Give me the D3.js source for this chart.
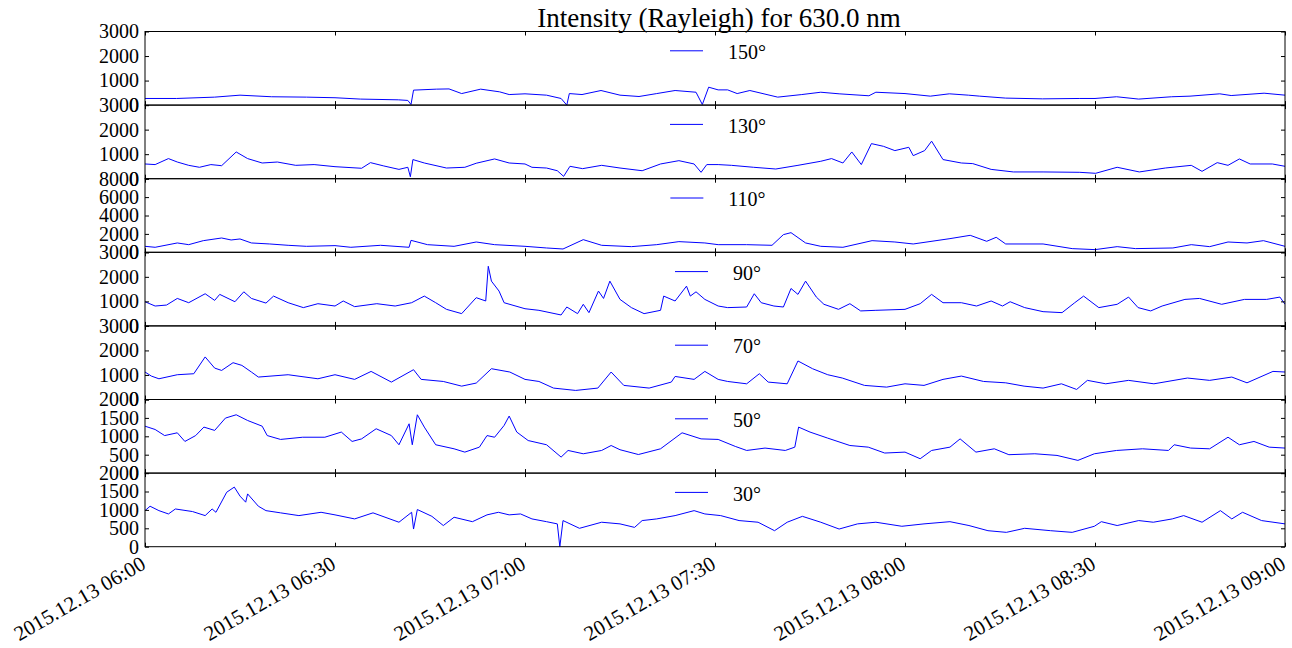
<!DOCTYPE html>
<html>
<head>
<meta charset="utf-8">
<script src="https://cdn.jsdelivr.net/npm/d3@7"></script>
<style>
body{margin:0;background:#fff}
svg{display:block}
text{font-family:"Liberation Serif",serif;fill:#000}
</style>
</head>
<body>
<div id="chart"></div>
<script>
// [minutes after 06:00, intensity]
const s150=[[0,270],[5,270],[11,325],[15,405],[20,340],[25.5,325],[30,300],[34,245],[40,215],[41.5,190],[42,25],[42.4,610],[46,650],[48,660],[50,470],[53,650],[56,540],[57.5,430],[60,460],[63.4,405],[65.7,270],[66.6,0],[67,470],[69,430],[72,595],[75,405],[78,350],[80.8,470],[83.7,595],[87,525],[88,25],[89,730],[90.5,620],[92,620],[93.5,470],[95.5,595],[99.9,325],[103.7,430],[106.7,525],[109.6,460],[114.3,380],[115.4,525],[120,470],[124,365],[127,460],[130,405],[131.8,365],[135.9,285],[141.7,255],[147.6,270],[150,270],[153.4,340],[156.9,245],[162.1,340],[165,365],[169.7,460],[171.5,390],[176.7,485],[180,405]]
const s130=[[0,600],[1.6,575],[3.7,820],[5.1,680],[6.9,545],[8.6,465],[10.4,575],[12.1,530],[14.4,1090],[16.2,820],[18.5,640],[20.9,680],[23.8,545],[26.7,575],[30,490],[34.2,425],[35.6,655],[37.7,520],[40.1,380],[41.5,465],[41.9,80],[42.3,780],[44.1,640],[47.6,435],[50.5,465],[52.3,630],[55.2,805],[57.5,640],[60,600],[61.1,465],[63.4,435],[65.1,325],[66.1,95],[67.1,505],[69.1,410],[72.1,545],[75,435],[78.5,325],[81.4,600],[84.3,735],[86.7,600],[87.8,260],[88.7,575],[90.5,575],[92.6,545],[96.1,465],[99.6,395],[103.1,545],[106.7,710],[108.4,820],[110.2,640],[111.6,1090],[113.1,575],[114.7,1430],[116.6,1320],[118.4,1145],[120.6,1280],[121.3,940],[123.1,1145],[124.2,1530],[126,780],[128.9,640],[130.7,615],[133.6,380],[137.1,275],[141.8,275],[147.6,260],[150.1,220],[153.5,465],[157,275],[161.1,435],[165.2,545],[166.9,300],[169.3,655],[171,545],[172.8,805],[174.5,600],[178,600],[180,505]]
const s110=[[0,650],[1.6,545],[5.1,1015],[6.9,830],[9.2,1265],[12.1,1555],[13.6,1340],[15,1450],[16.8,1015],[19.7,905],[22.6,760],[25.5,650],[30,725],[32.5,545],[37.2,760],[41.7,545],[42,1300],[44.6,830],[48.8,650],[52.3,1120],[55.2,830],[60,650],[63.4,470],[66,360],[69.2,1375],[72.1,760],[76.8,615],[80.8,830],[84.3,1160],[88.4,1015],[90.5,830],[95,830],[99,760],[100.8,1920],[102,2135],[104.3,1015],[106.7,650],[110.2,545],[114.8,1265],[118.4,1120],[121.3,905],[127.1,1485],[130.3,1845],[132.9,1195],[134.4,1630],[135.9,905],[141.8,905],[146.4,400],[150,290],[153.5,615],[156.4,400],[162.3,470],[165.2,830],[168.1,615],[171,1120],[174,1015],[176.6,1265],[180,650]]
const s90=[[0,985],[1.6,810],[3.4,850],[5.1,1120],[6.9,945],[9.5,1310],[11,1040],[11.8,1285],[14.2,985],[15.6,1390],[16.8,1120],[19.1,930],[20.3,1215],[22.6,945],[25,745],[27.3,905],[30,810],[31.3,1015],[33.1,785],[36.6,905],[39.5,810],[42.1,945],[44.1,1215],[45.9,945],[47.6,675],[50,500],[52.3,1150],[53.8,1015],[54.2,2430],[54.7,1825],[55.9,1420],[56.7,945],[60,700],[62.2,635],[65.7,445],[66.6,770],[68.3,500],[69.2,880],[70.1,540],[71.6,1420],[72.4,1120],[73.4,1825],[75,1080],[76.8,745],[78.8,500],[81.4,635],[81.9,1215],[83.7,1015],[85.5,1620],[86.1,1215],[87,1390],[88.4,1080],[90.5,810],[92,745],[95,770],[96.2,1310],[97.3,945],[99.3,810],[100.8,770],[102,1525],[103.1,1285],[104.3,1825],[106,1175],[107.2,880],[109.5,675],[111.3,905],[113,610],[115.4,635],[120,675],[122.4,905],[124.2,1285],[126,945],[128.9,945],[131.3,810],[133.6,1015],[135.4,810],[136.6,985],[138.9,745],[141.8,580],[144.8,540],[146.8,945],[148.2,1215],[150.6,745],[153.5,880],[155.3,1175],[156.8,745],[158.8,610],[160.6,810],[164.2,1080],[166.5,1120],[170,880],[173.6,1080],[177.1,1080],[179.2,1175],[180,880]]
const s70=[[0,1120],[1,955],[2.2,845],[5.1,1010],[7.7,1050],[9.5,1735],[11,1280],[12.1,1185],[13.9,1500],[15.3,1390],[16.8,1120],[17.9,915],[22.6,1010],[27.3,845],[30,1010],[33.1,820],[35.7,1145],[38.9,710],[42.4,1215],[43.6,820],[47.1,735],[50,545],[52.3,670],[54.7,1255],[57.6,1120],[60,820],[62.2,735],[64.5,465],[68,370],[71.5,465],[73.6,1120],[75.6,575],[79.6,465],[83.1,710],[83.7,940],[86.7,820],[88.4,1145],[90.5,820],[92,735],[95,640],[97,1050],[98.4,710],[101.4,640],[103.1,1570],[105.4,1255],[107.8,1010],[110.1,875],[113.6,575],[117.1,505],[120,640],[123,575],[126,820],[128.9,955],[132.4,735],[135.9,680],[138.8,545],[141.8,465],[144.7,640],[147.1,410],[148.8,780],[151.7,640],[155.3,780],[159.3,640],[164.6,875],[168.1,780],[171.6,915],[174,680],[178.1,1145],[180,1120]]
const s50=[[0,1275],[1.6,1185],[3.1,1020],[5.1,1095],[6.3,860],[8,1020],[9.3,1250],[11,1160],[12.7,1495],[14.4,1585],[16.2,1430],[18.5,1275],[19.3,1020],[21.4,915],[24.9,975],[28.4,975],[31,1115],[32.7,860],[34.2,930],[36.5,1205],[38.9,1020],[40.1,770],[41.7,1340],[42.2,770],[43,1585],[44.1,1250],[45.9,770],[48.8,660],[50.5,570],[52.8,705],[54,1020],[55.2,975],[56.7,1295],[57.5,1550],[58.7,1115],[60.5,885],[63.4,770],[65.7,435],[66.8,615],[69.2,525],[72.1,615],[73.6,750],[75,635],[77.9,505],[81.4,660],[84.8,1095],[87.8,930],[90.5,915],[93.2,725],[95,615],[97.9,680],[101.1,615],[102.6,705],[103.2,1250],[105,1115],[107.8,950],[111.3,750],[114.2,705],[116.8,545],[120,570],[122.4,390],[124.2,615],[127.1,705],[128.7,930],[131.2,570],[134.1,660],[136.4,500],[140.5,525],[144,480],[147.3,345],[149.9,525],[153.4,615],[157.5,660],[161.6,615],[162.5,770],[165.1,680],[168.1,660],[171,975],[172.8,770],[175.1,860],[177.5,705],[180,680]]
const s30=[[0,980],[0.8,1100],[2.2,980],[3.7,890],[4.8,1025],[7.5,955],[9.5,845],[10.6,1025],[11.2,935],[12.9,1480],[14.1,1620],[15,1375],[15.9,1210],[16.2,1435],[17.9,1100],[19.1,980],[21.4,920],[24.3,845],[27.8,935],[30,865],[33.1,755],[36,920],[40.1,665],[42.1,935],[42.4,480],[43,1010],[45.3,825],[47.1,575],[48.8,800],[51.7,680],[54,865],[55.8,935],[57.5,865],[59.3,890],[61.1,755],[63.4,680],[65.1,620],[65.5,0],[66,710],[68.6,500],[72.1,665],[75,620],[77.3,525],[78.5,710],[80.8,755],[83.7,845],[86.7,980],[88.4,890],[90.9,845],[93.8,710],[96.8,665],[99.4,435],[101.4,665],[103.8,825],[106.7,665],[109.6,480],[112.5,620],[115.4,665],[119.5,555],[123,620],[127.1,680],[130.1,575],[133.1,435],[136,390],[138.9,500],[143,435],[146.4,390],[149.9,555],[151,680],[153.5,575],[156.9,710],[159.2,665],[162.2,755],[164,845],[166.9,665],[169.8,980],[171.6,755],[173.3,935],[176.3,710],[180,620]]

const angles=['150°','130°','110°','90°','70°','50°','30°']
const series=[s150,s130,s110,s90,s70,s50,s30]
const yMax=[3000,3000,8000,3000,3000,2000,2000]
const yStep=[1000,1000,2000,1000,1000,500,500]
const title='Intensity (Rayleigh) for 630.0 nm'

const W=1292,H=648
const left=145,right=1285,top0=31.5,ph=73.6
const t0=new Date(2015,11,13,6,0),t1=new Date(2015,11,13,9,0)
const toDate=m=>new Date(t0.getTime()+m*60000)

const svg=d3.select('#chart').append('svg').attr('width',W).attr('height',H)
const x=d3.scaleTime().domain([t0,t1]).range([left,right])
const xTicks=x.ticks(d3.timeMinute.every(30))
const fmt=d3.timeFormat('%Y.%m.%d %H:%M')

svg.append('text').attr('x',(left+right)/2+4).attr('y',27)
  .attr('text-anchor','middle').style('font-size','27px').text(title)

series.forEach((data,i)=>{
  const y0=top0+i*ph,y1=y0+ph
  const y=d3.scaleLinear().domain([0,yMax[i]]).range([y1,y0])
  const g=svg.append('g')
  g.append('clipPath').attr('id','c'+i).append('rect')
    .attr('x',left).attr('y',y0).attr('width',right-left).attr('height',ph)

  const line=d3.line().x(d=>x(toDate(d[0]))).y(d=>y(d[1]))
  g.append('path').datum(data).attr('clip-path','url(#c'+i+')')
    .attr('d',line).attr('fill','none').attr('stroke','#0000ff').attr('stroke-width',1)

  // tick labels overlap at panel joins, as in the original figure
  const vals=d3.range(0,yMax[i]+1,yStep[i])
  const ya=g.append('g').attr('transform',`translate(${left},0)`)
    .call(d3.axisLeft(y).tickValues(vals).tickSize(-4).tickPadding(6).tickFormat(d3.format('d')))
  ya.selectAll('text').style('font-size','20px').style('font-family','"Liberation Serif",serif')
  g.append('g').attr('transform',`translate(${right},0)`)
    .call(d3.axisRight(y).tickValues(vals).tickSize(-4).tickFormat(''))
  g.append('g').attr('transform',`translate(0,${y1})`)
    .call(d3.axisBottom(x).tickValues(xTicks).tickSize(-4).tickFormat(''))
  g.append('g').attr('transform',`translate(0,${y0})`)
    .call(d3.axisTop(x).tickValues(xTicks).tickSize(-4).tickFormat(''))
  g.selectAll('.domain').remove()
  g.selectAll('.tick line').attr('stroke','#000')
  g.append('rect').attr('x',left).attr('y',y0).attr('width',right-left).attr('height',ph)
    .attr('fill','none').attr('stroke','#000').attr('stroke-width',1)

  // legend, centred at top of panel
  const lg=g.append('g')
  const lt=lg.append('text').attr('y',y0+27.5).style('font-size','20px').text(angles[i])
  const tw=lt.node().getComputedTextLength()
  const start=718-(33+25+tw)/2
  lg.append('line').attr('x1',start).attr('x2',start+33).attr('y1',y0+19.3).attr('y2',y0+19.3)
    .attr('stroke','#0000ff').attr('stroke-width',1)
  lt.attr('x',start+58)

  if(i===series.length-1){
    g.selectAll('.xl').data(xTicks).enter().append('text')
      .attr('transform',d=>`translate(${x(d)+2},${y1+21}) rotate(-30)`)
      .attr('text-anchor','end').style('font-size','21px').text(d=>fmt(d))
  }
})
</script>
</body>
</html>
